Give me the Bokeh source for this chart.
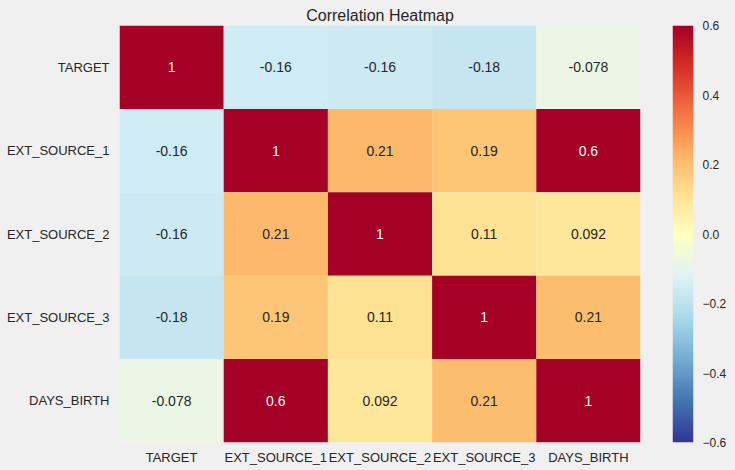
import numpy as np
from bokeh.plotting import figure
from bokeh.models import ColumnDataSource, LinearColorMapper, FactorRange, Range1d, FixedTicker, CustomJSTickFormatter
from bokeh.layouts import row
from bokeh.core.properties import value
from bokeh.embed import file_html
from bokeh.resources import INLINE

# ---- data ----
names = ["TARGET", "EXT_SOURCE_1", "EXT_SOURCE_2", "EXT_SOURCE_3", "DAYS_BIRTH"]
row_target = [1.0, -0.156, -0.16, -0.179, -0.078]
row_ext1 = [-0.156, 1.0, 0.214, 0.187, 0.601]
row_ext2 = [-0.16, 0.214, 1.0, 0.109, 0.092]
row_ext3 = [-0.179, 0.187, 0.109, 1.0, 0.206]
row_days = [-0.078, 0.601, 0.092, 0.206, 1.0]
vmin, vmax = -0.6, 0.6
cbar_ticks = [-0.6, -0.4, -0.2, 0.0, 0.2, 0.4, 0.6]

matrix = [row_target, row_ext1, row_ext2, row_ext3, row_days]

# RdYlBu reversed, interpolated to 256 like matplotlib
anchors = ['#a50026', '#d73027', '#f46d43', '#fdae61', '#fee090', '#ffffbf',
           '#e0f3f8', '#abd9e9', '#74add1', '#4575b4', '#313695'][::-1]
def hex2rgb(h):
    return np.array([int(h[i:i + 2], 16) for i in (1, 3, 5)], dtype=float)
A = np.array([hex2rgb(h) for h in anchors])
palette_rgb = []
for i in range(256):
    t = i / 255 * 10
    k = min(int(t), 9)
    f = t - k
    palette_rgb.append(A[k] * (1 - f) + A[k + 1] * f)
palette = ['#%02x%02x%02x' % tuple(int(round(c)) for c in rgb) for rgb in palette_rgb]

def lookup(v):
    idx = int((v - vmin) / (vmax - vmin) * 256)
    return min(max(idx, 0), 255)

def rel_lum(rgb):
    c = rgb / 255.0
    c = np.where(c <= 0.03928, c / 12.92, ((c + 0.055) / 1.055) ** 2.4)
    return 0.2126 * c[0] + 0.7152 * c[1] + 0.0722 * c[2]

xs, ys, vals, labels, tcols = [], [], [], [], []
for r, rn in enumerate(names):
    for c, cn in enumerate(names):
        v = matrix[r][c]
        xs.append(cn)
        ys.append(rn)
        vals.append(v)
        labels.append('{:.2g}'.format(v))
        tcols.append('#262626' if rel_lum(palette_rgb[lookup(v)]) > 0.408 else '#ffffff')

src = ColumnDataSource(dict(x=xs, y=ys, v=vals, label=labels, tcol=tcols))
mapper = LinearColorMapper(palette=palette, low=vmin, high=vmax)

BG = "#f0f0f0"
FONT = "Liberation Sans"
TXT = "#262626"

p = figure(width=650, height=470, output_backend="svg", toolbar_location=None,
           x_range=FactorRange(*names), y_range=FactorRange(*names[::-1]),
           min_border_left=119, min_border_right=10, min_border_top=25, min_border_bottom=28)
p.rect(x='x', y='y', width=1, height=1, source=src,
       fill_color={'field': 'v', 'transform': mapper}, line_color=None)
p.text(x='x', y='y', text='label', source=src, text_align='center', text_baseline='middle',
       text_font=value(FONT), text_font_size='14px', text_color='tcol')

p.title.text = "Correlation Heatmap"
p.title.align = "center"
p.title.text_font = FONT
p.title.text_font_size = "16px"
p.title.text_font_style = "normal"
p.title.text_color = TXT
p.title.standoff = 4
p.title.offset = 0

for ax in (p.xaxis[0], p.yaxis[0]):
    ax.axis_line_color = None
    ax.major_tick_line_color = None
    ax.minor_tick_line_color = None
    ax.major_tick_out = 0
    ax.major_tick_in = 0
    ax.major_label_text_font = FONT
    ax.major_label_text_font_size = "13px"
    ax.major_label_text_color = TXT
p.xaxis.major_label_standoff = 7
p.yaxis.major_label_standoff = 10
p.grid.visible = False
p.outline_line_color = None
p.background_fill_color = BG
p.border_fill_color = BG

# colorbar figure
c = figure(width=85, height=470, output_backend="svg", toolbar_location=None,
           x_range=Range1d(0, 1), y_range=Range1d(vmin, vmax), y_axis_location="right",
           min_border_left=22, min_border_right=42, min_border_top=25, min_border_bottom=28)
grad = np.linspace(vmin, vmax, 256).reshape(256, 1)
c.image(image=[grad], x=0, y=vmin, dw=1, dh=vmax - vmin, color_mapper=mapper)
c.xaxis.visible = False
c.yaxis.ticker = FixedTicker(ticks=cbar_ticks)
c.yaxis.formatter = CustomJSTickFormatter(code="return tick.toFixed(1).replace('-', '\u2212');")
ya = c.yaxis[0]
ya.axis_line_color = None
ya.major_tick_line_color = None
ya.minor_tick_line_color = None
ya.major_tick_out = 0
ya.major_tick_in = 0
ya.major_label_standoff = 9
ya.major_label_text_font = FONT
ya.major_label_text_font_size = "12px"
ya.major_label_text_color = TXT
c.grid.visible = False
c.outline_line_color = None
c.background_fill_color = BG
c.border_fill_color = BG

layout = row(p, c)
html = file_html(layout, INLINE)
html = html.replace("<head>", "<head><style>body{background:#f0f0f0;}</style>", 1)
open("out.html", "w").write(html)
